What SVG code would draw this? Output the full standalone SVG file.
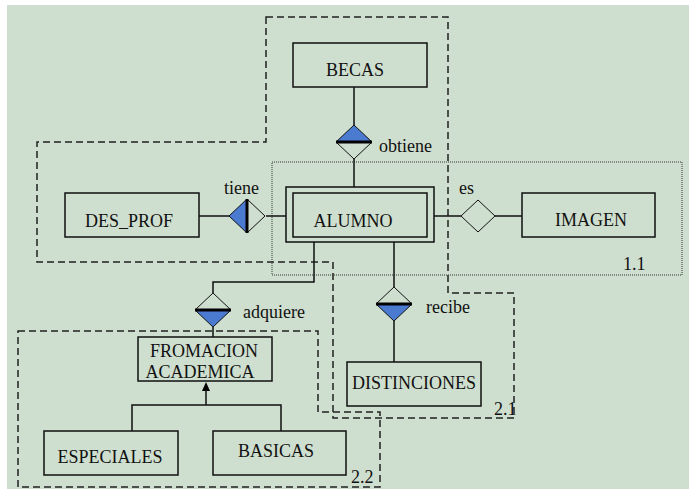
<svg xmlns="http://www.w3.org/2000/svg" width="689" height="489" viewBox="0 0 689 489">
<style>
.ent{fill:none;stroke:#111;stroke-width:1.5}
.ln{fill:none;stroke:#111;stroke-width:1.5}
.dash{fill:none;stroke:#222;stroke-width:1.5;stroke-dasharray:7 4}
.dot{fill:none;stroke:#333;stroke-width:1;stroke-dasharray:1 1}
.blue{fill:#4a7bd0;stroke:none}
.dia{fill:none;stroke:#111;stroke-width:1}
.thick{stroke:#000;stroke-width:3}
text{font-family:"Liberation Serif","Times New Roman",serif;font-size:18px;fill:#111}
.c{text-anchor:middle}
</style>
<rect x="0" y="0" width="689" height="489" fill="#ffffff"/>
<rect x="7" y="5" width="682" height="484" fill="#cfdfcf"/>

<g id="groups">
<polygon class="dash" points="266,17 448,17 448,293 514,293 514,418 333,418 333,262 37,262 37,142 266,142"/>
<polygon class="dash" points="18,331 318,331 318,412 380,412 380,487 18,487"/>
<rect class="dot" x="272" y="162" width="410" height="113"/>
<text x="623" y="270">1.1</text>
<text x="494" y="415">2.1</text>
<text x="351" y="483">2.2</text>
</g>

<g id="connectors">
<line class="ln" x1="354" y1="87" x2="354" y2="125"/>
<line class="ln" x1="354" y1="159" x2="354" y2="187"/>
<line class="ln" x1="199" y1="216" x2="229" y2="216"/>
<line class="ln" x1="266" y1="216" x2="286" y2="216"/>
<line class="ln" x1="434" y1="216" x2="461" y2="216"/>
<line class="ln" x1="495" y1="216" x2="522" y2="216"/>
<polyline class="ln" points="314,242 314,282 213,282 213,293"/>
<line class="ln" x1="213" y1="327" x2="213" y2="337"/>
<line class="ln" x1="394" y1="242" x2="394" y2="287"/>
<line class="ln" x1="394" y1="321" x2="394" y2="362"/>
<polygon points="206,382 202,391 210,391" fill="#000"/>
<line class="ln" x1="206" y1="390" x2="206" y2="405"/>
<polyline class="ln" points="132,431 132,405 281,405 281,431"/>
</g>

<g id="obtiene">
<polygon class="blue" points="336,142 354,125 372,142"/>
<polygon class="dia" points="354,125 372,142 354,159 336,142"/>
<line class="thick" x1="336" y1="142" x2="372" y2="142"/>
<text x="379" y="152">obtiene</text>
</g>

<g id="tiene">
<polygon class="blue" points="247,199 229,216 247,233"/>
<polygon class="dia" points="247,199 265,216 247,233 229,216"/>
<line class="thick" x1="247" y1="199" x2="247" y2="233"/>
<text x="224" y="194">tiene</text>
</g>

<g id="es">
<polygon class="dia" points="478,200 495,216 478,232 461,216"/>
<text x="459" y="194">es</text>
</g>

<g id="recibe">
<polygon class="blue" points="376,304 412,304 394,321"/>
<polygon class="dia" points="394,287 412,304 394,321 376,304"/>
<line class="thick" x1="376" y1="304" x2="412" y2="304"/>
<text x="426" y="313">recibe</text>
</g>

<g id="adquiere">
<polygon class="blue" points="195,310 231,310 213,327"/>
<polygon class="dia" points="213,293 231,310 213,327 195,310"/>
<line class="thick" x1="195" y1="310" x2="231" y2="310"/>
<text x="243" y="318">adquiere</text>
</g>

<g id="BECAS">
<rect class="ent" x="293" y="43" width="134" height="44"/>
<text class="c" x="355" y="76">BECAS</text>
</g>

<g id="ALUMNO">
<rect class="ent" x="286" y="187" width="148" height="55"/>
<rect class="ent" x="293" y="193" width="134" height="44"/>
<text class="c" x="353" y="227">ALUMNO</text>
</g>

<g id="DES_PROF">
<rect class="ent" x="65" y="193" width="134" height="44"/>
<text class="c" x="129" y="227">DES_PROF</text>
</g>

<g id="IMAGEN">
<rect class="ent" x="522" y="193" width="133" height="44"/>
<text class="c" x="591" y="226">IMAGEN</text>
</g>

<g id="FROMACION_ACADEMICA">
<rect class="ent" x="138" y="337" width="134" height="44"/>
<text class="c" x="204" y="357">FROMACION</text>
<text class="c" x="200" y="378">ACADEMICA</text>
</g>

<g id="DISTINCIONES">
<rect class="ent" x="347" y="362" width="134" height="44"/>
<text class="c" x="414" y="389">DISTINCIONES</text>
</g>

<g id="ESPECIALES">
<rect class="ent" x="44" y="431" width="134" height="44"/>
<text class="c" x="110" y="463">ESPECIALES</text>
</g>

<g id="BASICAS">
<rect class="ent" x="213" y="431" width="133" height="44"/>
<text class="c" x="276" y="457">BASICAS</text>
</g>
</svg>
